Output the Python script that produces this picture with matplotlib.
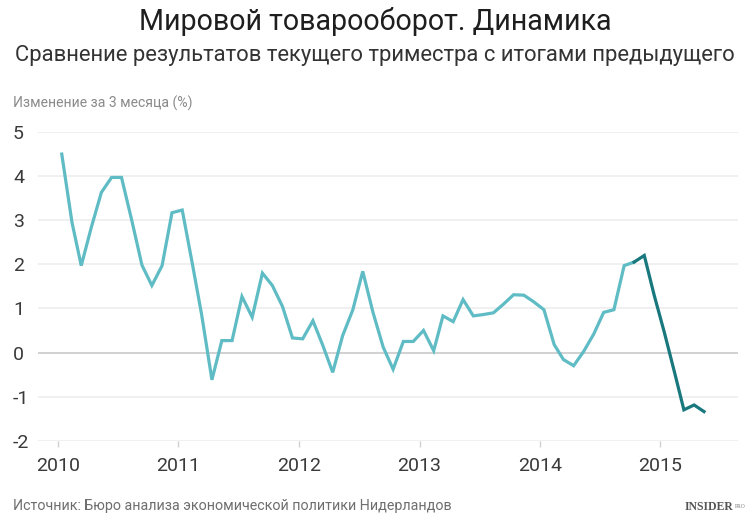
import numpy as np
import pandas as pd
import matplotlib
matplotlib.use('Agg')
import matplotlib.pyplot as plt

# monthly values, Jan 2010 .. May 2015 (% change over 3 months)
values = [
    4.5, 2.95, 1.97, 2.85, 3.63, 3.97, 3.97, 3.0, 1.98, 1.52, 1.97, 3.17,     # 2010
    3.23, 2.0, 0.85, -0.62, 0.27, 0.27, 1.27, 0.8, 1.8, 1.52, 1.04, 0.33,     # 2011
    0.31, 0.72, 0.18, -0.45, 0.38, 0.97, 1.84, 0.91, 0.12, -0.38, 0.25, 0.25,  # 2012
    0.5, 0.04, 0.83, 0.7, 1.2, 0.83, 0.86, 0.9, 1.1, 1.31, 1.3, 1.15,         # 2013
    0.97, 0.18, -0.16, -0.3, 0.02, 0.42, 0.91, 0.97, 1.97, 2.05, 2.2, 1.3,    # 2014
    0.45, -0.46, -1.3, -1.19, -1.34,                                           # 2015
]
split_month = '2014-10'   # dark segment starts here
year_ticks = [2010, 2011, 2012, 2013, 2014, 2015]
y_ticks = [-2, -1, 0, 1, 2, 3, 4, 5]

title = 'Мировой товарооборот. Динамика'
subtitle = 'Сравнение результатов текущего триместра с итогами предыдущего'
ylabel = 'Изменение за 3 месяца (%)'
source = 'Источник: Бюро анализа экономической политики Нидерландов'

months = pd.date_range('2010-01-01', periods=len(values), freq='MS')
dates = months + pd.Timedelta(days=12)
s = pd.Series(values, index=dates)
k = list(months.strftime('%Y-%m')).index(split_month)

light = '#5fbcc5'
dark = '#18787d'
plt.rcParams['font.family'] = ['Roboto', 'DejaVu Sans']

fig = plt.figure(figsize=(7.5, 5.3), dpi=100)
ax = fig.add_axes([38/750, 1-440.7/530, 700/750, (440.7-132)/530])

for y in y_ticks:
    ax.axhline(y, color='#c9c9c9' if y == 0 else '#eeeeee', lw=1.2, zorder=1)

ax.plot(s.index[:k+1], s.values[:k+1], color=light, lw=2.3, zorder=3,
        solid_joinstyle='miter')
ax.plot(s.index[k:], s.values[k:], color=dark, lw=2.3, zorder=3,
        solid_joinstyle='miter')

ax.set_ylim(-2, 5)
ax.set_xlim(pd.Timestamp('2009-11-02'), pd.Timestamp('2015-08-24'))
for sp in ax.spines.values():
    sp.set_visible(False)

ax.set_yticks(y_ticks)
ax.set_yticklabels([str(v) for v in y_ticks])
ax.tick_params(axis='y', length=0, pad=18, labelsize=14, labelcolor='#3a3a3a')
for t in ax.get_yticklabels():
    t.set_horizontalalignment('left')

ax.set_xticks([pd.Timestamp(f'{y}-01-01') for y in year_ticks])
ax.set_xticklabels([str(y) for y in year_ticks])
ax.tick_params(axis='x', length=4, width=1, color='#d0d0d0', pad=8,
               labelsize=14, labelcolor='#3a3a3a')

renderer = fig.canvas.get_renderer()


def fit_text(x, y, txt, width_px, size, **kw):
    t = fig.text(x, y, txt, fontsize=size, **kw)
    w = t.get_window_extent(renderer).width
    t.set_fontsize(size * width_px / w)
    return t


fit_text(0.5, 1-22/530, title, 470, 19, ha='center', va='center', color='#1e1e1e')
fit_text(0.5, 1-55/530, subtitle, 722, 17, ha='center', va='center', color='#333333')
fit_text(13/750, 1-103/530, ylabel, 179, 11, ha='left', va='center', color='#8a8a8a')
fit_text(13/750, 1-506/530, source, 435, 11, ha='left', va='center', color='#6e6e6e')

fig.text(733/750, 1-507/530, 'INSIDER', ha='right', va='center', fontsize=8.5,
         fontweight='bold', color='#555555', family=['Liberation Serif', 'DejaVu Serif'])
fig.text(735/750, 1-507/530, 'PRO', ha='left', va='center', fontsize=4,
         color='#777777', family=['Liberation Serif', 'DejaVu Serif'])

fig.savefig('out.png', dpi=100)
